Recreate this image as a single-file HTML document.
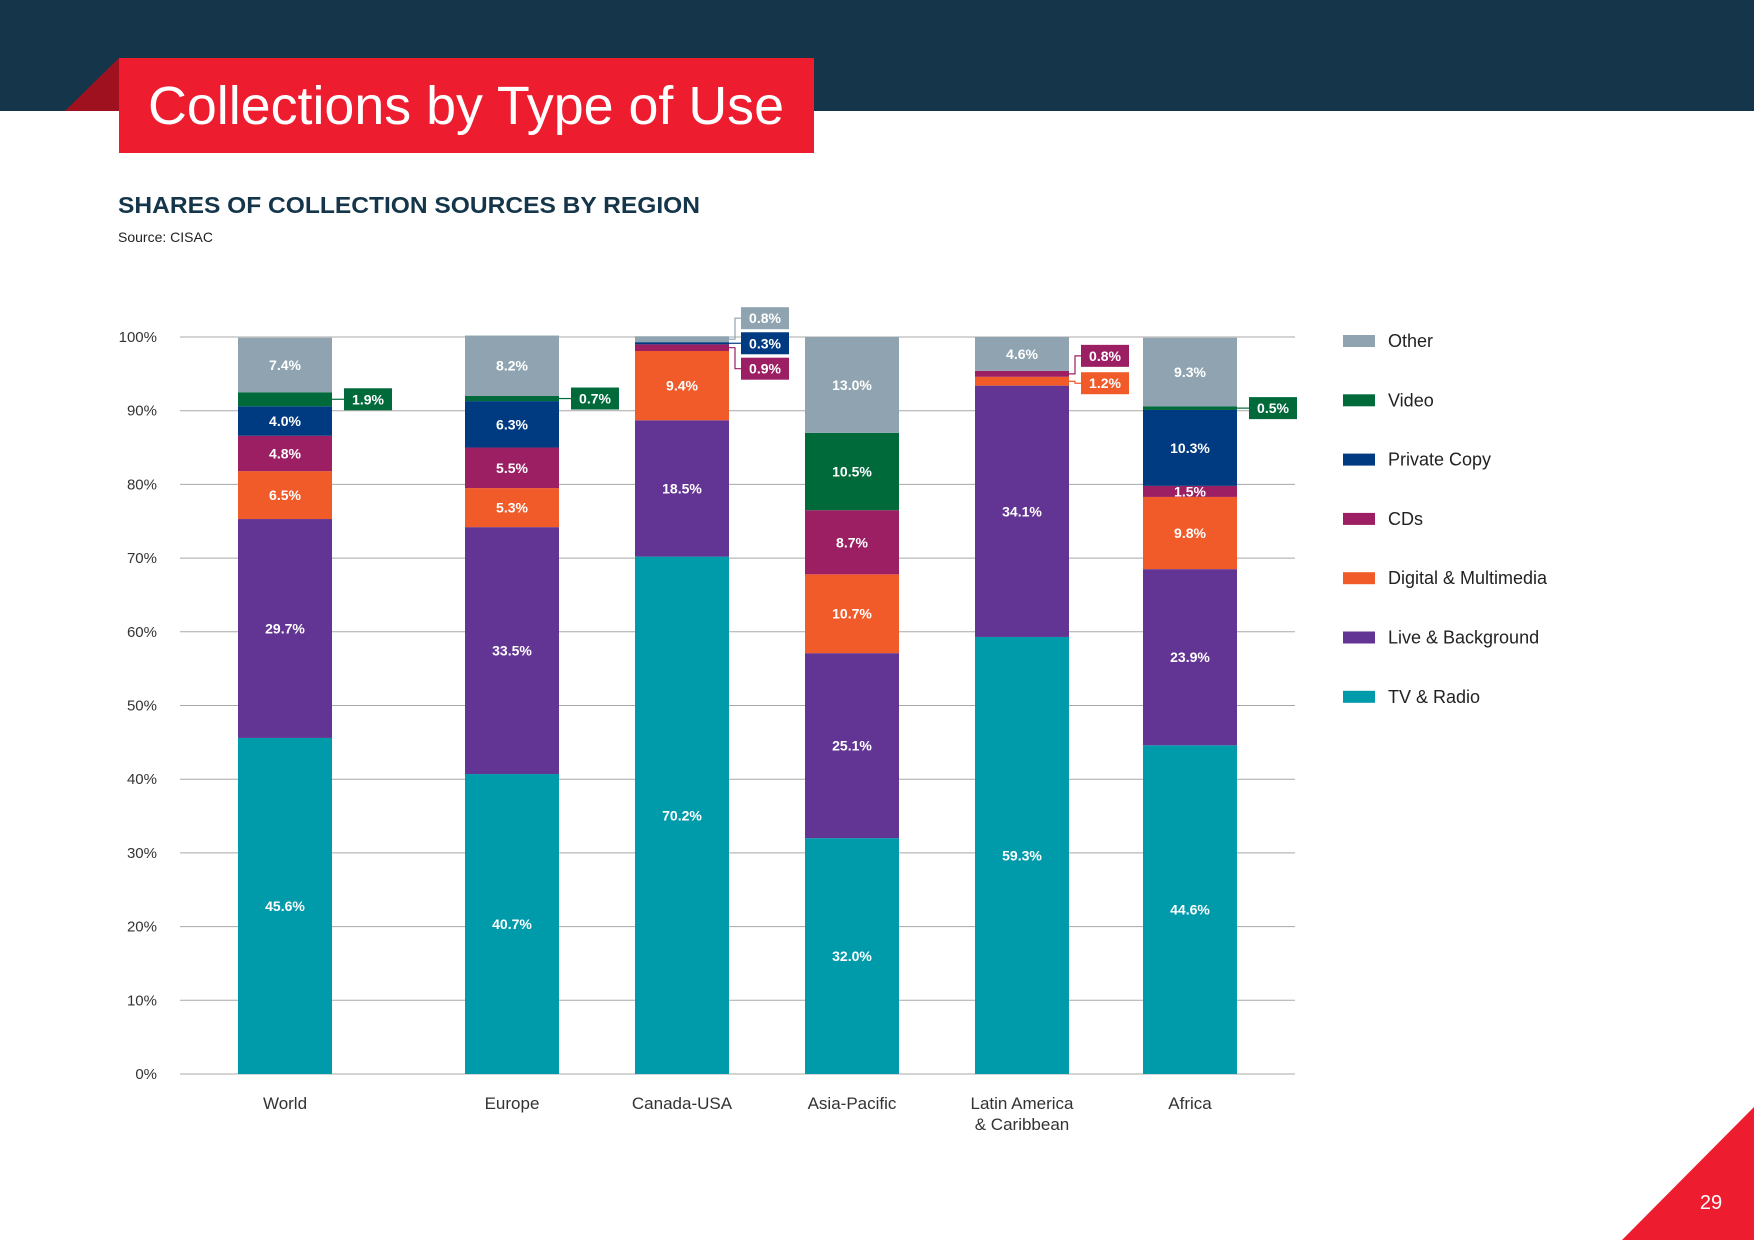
<!DOCTYPE html>
<html><head><meta charset="utf-8"><title>Collections by Type of Use</title>
<style>
html,body{margin:0;padding:0;background:#fff;}
svg{display:block;font-family:"Liberation Sans",sans-serif;}
</style></head>
<body>
<svg id="chart" width="1754" height="1240" viewBox="0 0 1754 1240" xmlns="http://www.w3.org/2000/svg">
  <rect x="0" y="0" width="1754" height="111" fill="#15364a"/>
  <polygon points="119,58 65,111 119,111" fill="#a0111f"/>
  <rect x="119" y="58" width="695" height="95" fill="#ed1c2e"/>
  <text x="148" y="124" font-size="54" fill="#fff" textLength="636" lengthAdjust="spacingAndGlyphs">Collections by Type of Use</text>
  <text x="118" y="213" font-size="23" font-weight="bold" fill="#15364a" textLength="582" lengthAdjust="spacingAndGlyphs">SHARES OF COLLECTION SOURCES BY REGION</text>
  <text x="118" y="242" font-size="14" fill="#222">Source: CISAC</text>
  <g id="grid"></g>
  <g id="bars"></g>
  <g id="labels"></g>
  <g id="legend"></g>
  <polygon points="1622,1240 1754,1107 1754,1240" fill="#ed1c2e"/>
  <text x="1711" y="1209" font-size="20" fill="#fff" text-anchor="middle">29</text>
</svg>
<script>
const categories = ["World", "Europe", "Canada-USA", "Asia-Pacific", "Latin America|& Caribbean", "Africa"];
const seriesNames = ["TV & Radio", "Live & Background", "Digital & Multimedia", "CDs", "Private Copy", "Video", "Other"];
const tvRadio   = [45.6, 40.7, 70.2, 32.0, 59.3, 44.6];
const live      = [29.7, 33.5, 18.5, 25.1, 34.1, 23.9];
const digital   = [6.5, 5.3, 9.4, 10.7, 1.2, 9.8];
const cds       = [4.8, 5.5, 0.9, 8.7, 0.8, 1.5];
const privCopy  = [4.0, 6.3, 0.3, 0, 0, 10.3];
const video     = [1.9, 0.7, 0, 10.5, 0, 0.5];
const other     = [7.4, 8.2, 0.8, 13.0, 4.6, 9.3];
const yTicks = [0, 10, 20, 30, 40, 50, 60, 70, 80, 90, 100];
// callouts: [category index, series index]
const callouts = [[0,5],[1,5],[2,6],[2,4],[2,3],[4,3],[4,2],[5,5]];
// vertical pixel offset of callout boxes (layout, not data)
const calloutOffsets = [0, 0, -21, 0, 21, -18, 2, 0];

const series = [tvRadio, live, digital, cds, privCopy, video, other];
const colors = ["#009bab", "#623493", "#f15a29", "#9b1f62", "#003a80", "#006a3b", "#8fa4b0"];
const NS = "http://www.w3.org/2000/svg";
const plotL = 180, plotR = 1295, y0 = 1074, y100 = 337;
const barCenters = [285, 512, 682, 852, 1022, 1190];
const barW = 94;
function yScale(v){ return y0 - (y0 - y100) * v / 100; }
function xScale(i){ return barCenters[i]; }
function mk(tag, attrs, parent){ const e = document.createElementNS(NS, tag); for (const k in attrs) e.setAttribute(k, attrs[k]); parent.appendChild(e); return e; }
function fmt(v){ return v.toFixed(1) + "%"; }

const grid = document.getElementById("grid");
yTicks.forEach(t => {
  const l = mk("line", {x1: plotL, x2: plotR, y1: yScale(t), y2: yScale(t), stroke: "#a8a8a8", "stroke-width": 1}, grid);
  
  
  const tx = mk("text", {x: 157, y: yScale(t) + 5, "font-size": 15, fill: "#333", "text-anchor": "end"}, grid);
  tx.textContent = t + "%";
  
  
});

const bars = document.getElementById("bars");
const labels = document.getElementById("labels");
const isCallout = (c, s) => callouts.some(p => p[0] === c && p[1] === s);
categories.forEach((cat, c) => {
  let base = 0;
  const cx = xScale(c);
  series.forEach((arr, s) => {
    const v = arr[c];
    const yTop = yScale(base + v), yBot = yScale(base);
    if (v > 0) {
      const r = mk("rect", {x: cx - barW/2, y: yTop, width: barW, height: Math.max(0, yBot - yTop), fill: colors[s]}, bars);
      
      
      if (!isCallout(c, s)) {
        const t = mk("text", {x: cx, y: (yTop + yBot)/2 + 5, "font-size": 14, "font-weight": "bold", fill: "#fff", "text-anchor": "middle"}, labels);
        t.textContent = fmt(v);
        
        
      }
    }
    base += v;
  });
  const parts = cat.split("|");
  parts.forEach((p, k) => {
    const t = mk("text", {x: cx, y: 1109 + k * 21, "font-size": 17, fill: "#333", "text-anchor": "middle"}, labels);
    t.textContent = p;
    
    
  });
});

callouts.forEach((p, i) => {
  const c = p[0], s = p[1];
  let base = 0;
  for (let k = 0; k < s; k++) base += series[k][c];
  const v = series[s][c];
  const segY = yScale(base + v/2);
  const boxY = segY + calloutOffsets[i];
  const right = xScale(c) + barW/2;
  const bx = right + 12;
  const pl = mk("polyline", {points: `${right},${segY} ${right+6},${segY} ${right+6},${boxY} ${bx},${boxY}`, fill: "none", stroke: colors[s], "stroke-width": 1.2}, labels);
  
  
  const r = mk("rect", {x: bx, y: boxY - 11, width: 48, height: 22, fill: colors[s]}, labels);
  
  
  const t = mk("text", {x: bx + 24, y: boxY + 5, "font-size": 14, "font-weight": "bold", fill: "#fff", "text-anchor": "middle"}, labels);
  t.textContent = fmt(v);
  
  
});

const legend = document.getElementById("legend");
const legendOrder = [6, 5, 4, 3, 2, 1, 0];
legendOrder.forEach((s, k) => {
  const y = 341 + k * 59.3;
  const r = mk("rect", {x: 1343, y: y - 6, width: 32, height: 12, fill: colors[s]}, legend);
  
  
  const t = mk("text", {x: 1388, y: y + 6, "font-size": 18, fill: "#222"}, legend);
  t.textContent = seriesNames[s];
  
  
});
</script>
</body></html>
